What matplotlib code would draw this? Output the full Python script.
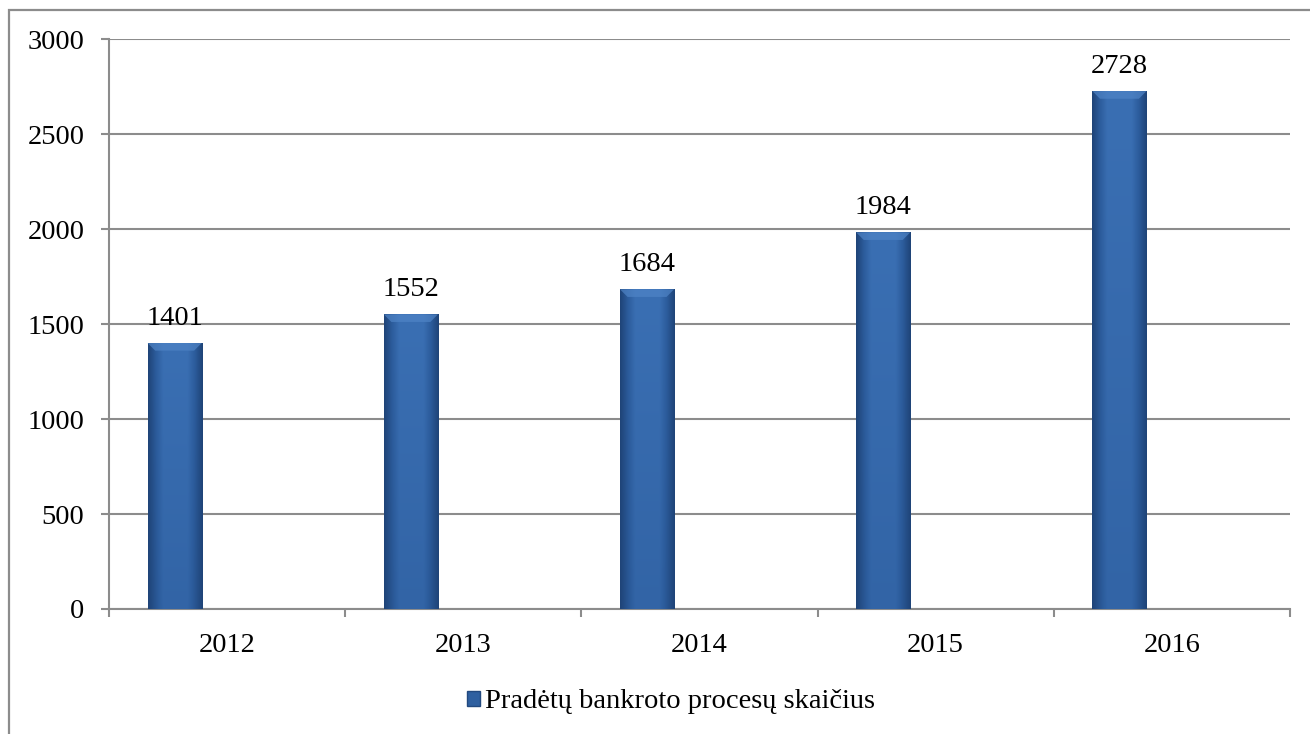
import numpy as np
import matplotlib
matplotlib.use("Agg")
import matplotlib.pyplot as plt
from matplotlib.colors import LinearSegmentedColormap
from matplotlib.patches import Rectangle, Patch

years = ["2012", "2013", "2014", "2015", "2016"]
values = [1401, 1552, 1684, 1984, 2728]
series_name = "Pradėtų bankroto procesų skaičius"
yticks = [0, 500, 1000, 1500, 2000, 2500, 3000]

plt.rcParams['font.family'] = ['Liberation Serif', 'DejaVu Serif']
FS = 20.5

fig = plt.figure(figsize=(13.10, 7.34), dpi=100)
ax = fig.add_axes([0.0832, 0.1703, 0.9847 - 0.0832, 0.9462 - 0.1703])

# figure border
fig.patches.append(Rectangle((9/1310, -0.1), 1.2, 1 - 10/734 + 0.1, transform=fig.transFigure,
                             fill=False, edgecolor='#8c8c8c', linewidth=1.6, zorder=0))

x = np.arange(len(years))
bw = 0.229
off = -0.222
bars = ax.bar(x + off, values, width=bw, color='#2f5f9f', zorder=3, edgecolor='none')

# gradient fill for bars
xs = np.linspace(0, 1, 64)
prof = 1 - np.abs(xs - 0.5) * 2
prof = np.clip(prof * 1.8, 0, 1)
cmap = LinearSegmentedColormap.from_list('b', ['#1f4478', '#2c5c9c', '#3a6fb3'])
for b, v in zip(bars, values):
    x0 = b.get_x(); x1 = x0 + b.get_width()
    ys = np.linspace(0, 1, 64)[:, None]
    img = prof[None, :] * (0.72 + 0.28 * ys)
    im = ax.imshow(img, extent=(x0, x1, 0, v), origin='lower', aspect='auto',
                   cmap=cmap, vmin=0, vmax=1, zorder=3.1, interpolation='bilinear')
    im.set_clip_path(b)
    bev = 40
    dx = b.get_width() * 0.14
    ax.fill([x0, x1, x1 - dx, x0 + dx], [v, v, v - bev, v - bev], color='#4f84c6',
            zorder=3.2, lw=0, alpha=0.7)
    ax.annotate(str(v), (b.get_x() + b.get_width() / 2, v), xytext=(0, 9),
                textcoords='offset points', ha='center', va='bottom', fontsize=FS, zorder=4)

ax.set_xlim(-0.5, len(years) - 0.5)
ax.set_ylim(0, 3000)
ax.set_yticks(yticks)
ax.set_yticklabels([str(t) for t in yticks], fontsize=FS)
ax.set_xticks(x)
ax.set_xticklabels(years, fontsize=FS)
ax.set_xticks(np.arange(-0.5, len(years) + 0.5, 1), minor=True)
ax.tick_params(axis='x', which='major', length=0, pad=17)
ax.tick_params(axis='x', which='minor', length=5.8, color='#8c8c8c', width=1.5, direction='out')
ax.tick_params(axis='y', length=5.8, color='#8c8c8c', width=1.5, direction='out', pad=12)
ax.grid(axis='y', color='#8c8c8c', linewidth=1.5, zorder=0)
ax.set_axisbelow(True)
for s in ['top', 'right']:
    ax.spines[s].set_visible(False)
for s in ['left', 'bottom']:
    ax.spines[s].set_color('#8c8c8c')
    ax.spines[s].set_linewidth(1.5)

handle = Patch(facecolor='#2f60a0', edgecolor='#22497f')
fig.legend([handle], [series_name], loc='center', bbox_to_anchor=(671/1310, 1 - 702/734),
           frameon=False, fontsize=FS, handlelength=0.45, handleheight=0.45, handletextpad=0.2)

fig.savefig('out.png', dpi=100)
